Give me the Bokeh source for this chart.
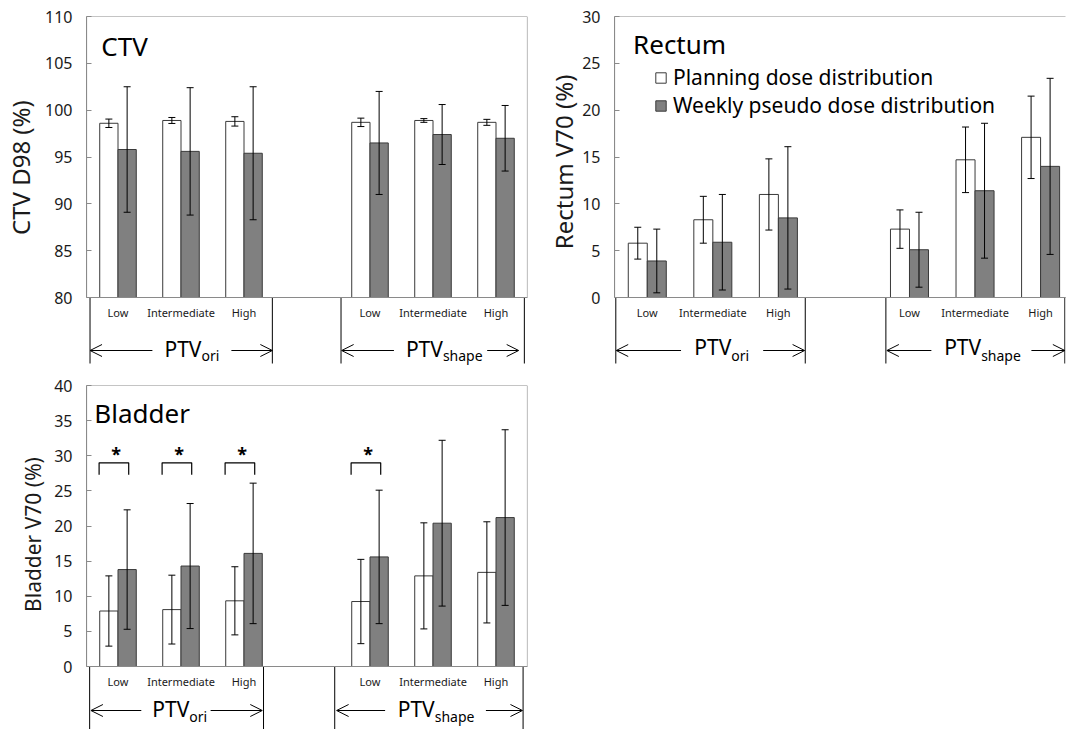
import numpy as np
from bokeh.plotting import figure
from bokeh.models import (ColumnDataSource, Whisker, TeeHead, Arrow, OpenHead,
                          Legend, LegendItem, FixedTicker, Range1d)
from bokeh.layouts import column, row
from bokeh.embed import file_html
from bokeh.resources import INLINE
from bokeh.core.properties import value

# ---------------- data ----------------
categories = ["Low", "Intermediate", "High", "Low", "Intermediate", "High"]
slot_positions = [1, 2, 3, 5, 6, 7]
group_names = ["ori", "shape"]
series_names = ["Planning dose distribution", "Weekly pseudo dose distribution"]

ctv_plan = [98.6, 98.9, 98.8, 98.7, 98.9, 98.7]
ctv_plan_sd = [0.45, 0.32, 0.5, 0.45, 0.2, 0.32]
ctv_weekly = [95.8, 95.6, 95.4, 96.5, 97.4, 97.0]
ctv_weekly_sd = [6.7, 6.8, 7.1, 5.5, 3.2, 3.5]

rectum_plan = [5.8, 8.3, 11.0, 7.3, 14.7, 17.1]
rectum_plan_sd = [1.7, 2.5, 3.8, 2.05, 3.5, 4.4]
rectum_weekly = [3.9, 5.9, 8.5, 5.1, 11.4, 14.0]
rectum_weekly_sd = [3.4, 5.1, 7.6, 4.0, 7.2, 9.4]

bladder_plan = [7.9, 8.1, 9.35, 9.25, 12.9, 13.4]
bladder_plan_sd = [5.0, 4.9, 4.85, 6.0, 7.55, 7.2]
bladder_weekly = [13.8, 14.3, 16.1, 15.6, 20.4, 21.2]
bladder_weekly_sd = [8.5, 8.9, 10.0, 9.5, 11.8, 12.5]
bladder_significant = [True, True, True, True, False, False]
bracket_top = 29.0
bracket_leg = 27.3
star_y = 30.3

FONT = "Noto Sans"
TXT = "#1a1a1a"
FRAME = "#8a8a8a"
GRAY = "#808080"
EDGE = "#3a3a3a"
BAR_W = 0.29
BOX_H = 281


def ylabel_fig(text, size, width, height, cx, cy):
    f = figure(width=width, height=height, output_backend="svg", toolbar_location=None,
               x_range=Range1d(0, width), y_range=Range1d(height, 0),
               x_axis_type=None, y_axis_type=None, min_border=0)
    f.grid.visible = False
    f.outline_line_color = None
    f.background_fill_color = "white"
    f.border_fill_color = "white"
    f.text(x=[cx], y=[cy], text=[text], angle=np.pi / 2, text_font=value(FONT),
           text_font_size=size, text_color=TXT, text_align="center", text_baseline="middle")
    return f


def make_panel(title, ymin, ymax, plan, plan_sd, weekly, weekly_sd, width, height,
               bl, br, bt, x_end, frame_right, deco):
    below = height - bt - BOX_H
    rng = ymax - ymin

    def ypx(dy):
        return ymin - dy * rng / BOX_H

    p = figure(width=width, height=height, output_backend="svg", toolbar_location=None,
               x_range=Range1d(0.5, x_end), y_range=Range1d(ypx(below), ymax),
               min_border_left=bl, min_border_right=br, min_border_top=bt,
               min_border_bottom=0)
    p.grid.visible = False
    p.outline_line_color = None
    p.background_fill_color = "white"
    p.border_fill_color = "white"

    # plot box
    p.quad(left=[0.5], right=[frame_right], bottom=[ymin], top=[ymax],
           fill_color=None, line_color=FRAME, line_width=1.2)

    xs = np.array(slot_positions, dtype=float)
    src_p = ColumnDataSource(dict(x=xs - BAR_W / 2, top=plan,
                                  up=np.array(plan) + np.array(plan_sd),
                                  lo=np.array(plan) - np.array(plan_sd)))
    src_w = ColumnDataSource(dict(x=xs + BAR_W / 2, top=weekly,
                                  up=np.array(weekly) + np.array(weekly_sd),
                                  lo=np.array(weekly) - np.array(weekly_sd)))
    r1 = p.vbar(x="x", top="top", bottom=ymin, width=BAR_W, source=src_p,
                fill_color="white", line_color=EDGE, line_width=1)
    r2 = p.vbar(x="x", top="top", bottom=ymin, width=BAR_W, source=src_w,
                fill_color=GRAY, line_color=EDGE, line_width=1)
    for src in (src_p, src_w):
        p.add_layout(Whisker(source=src, base="x", upper="up", lower="lo", level="overlay",
                             line_color="black", line_width=1,
                             upper_head=TeeHead(size=7, line_color="black", line_width=1),
                             lower_head=TeeHead(size=7, line_color="black", line_width=1)))

    # y axis (line limited to the box)
    ya = p.yaxis[0]
    ya.ticker = FixedTicker(ticks=list(range(int(ymin), int(ymax) + 1, 5)))
    ya.bounds = (ymin, ymax)
    ya.axis_line_color = FRAME
    ya.major_tick_in = 5
    ya.major_tick_out = 0
    ya.minor_tick_line_color = None
    ya.major_tick_line_color = FRAME
    ya.major_label_text_font = FONT
    ya.major_label_text_font_size = "16px"
    ya.major_label_text_color = TXT
    ya.major_label_standoff = 14

    # x axis at the base of the bars: category labels
    xa = p.xaxis[0]
    xa.fixed_location = ymin
    xa.bounds = (0.5, x_end)
    xa.ticker = FixedTicker(ticks=slot_positions)
    xa.major_label_overrides = {int(s): c for s, c in zip(slot_positions, categories)}
    xa.axis_line_color = FRAME
    xa.major_tick_line_color = None
    xa.minor_tick_line_color = None
    xa.major_tick_in = 0
    xa.major_tick_out = 0
    xa.major_label_standoff = 7
    xa.major_label_text_font = FONT
    xa.major_label_text_font_size = "11px"
    xa.major_label_text_color = TXT

    # panel title inside the box
    p.text(x=[deco["title_x"]], y=[ymax - deco["title_dy"] * rng / BOX_H], text=[title],
           text_font=value(FONT), text_font_size="26px", text_color="black",
           text_baseline="middle", text_align="left")

    # separators, arrows and PTV labels below the categories
    n = len(deco["seps"])
    p.segment(x0=deco["seps"], y0=[ymin] * n, x1=deco["seps"], y1=[ypx(deco["sep_dy"])] * n,
              line_color="black", line_width=1)
    for (a0, a1) in deco["arrows"]:
        p.add_layout(Arrow(x_start=a0, y_start=ypx(deco["arrow_dy"]), x_end=a1,
                           y_end=ypx(deco["arrow_dy"]),
                           end=OpenHead(size=12, line_color="black", line_width=1),
                           line_color="black", line_width=1))
    p.text(x=deco["ptv_x"], y=[ypx(deco["ptv_dy"])] * 2, text=["PTV", "PTV"],
           text_font=value(FONT), text_font_size="21px", text_color="black",
           text_baseline="middle", text_align="left")
    p.text(x=deco["ptv_x"], y=[ypx(deco["sub_dy"])] * 2, text=group_names, x_offset=37,
           text_font=value(FONT), text_font_size="14px", text_color="black",
           text_baseline="middle", text_align="left")
    return p, r1, r2


ctv_deco = dict(title_x=0.735, title_dy=29.5,
                seps=[0.556, 3.45, 4.54, 7.45], sep_dy=66,
                arrows=[(1.546, 0.556), (2.80, 3.45), (5.38, 4.55), (6.86, 7.36)], arrow_dy=53,
                ptv_x=[1.737, 5.57], ptv_dy=51, sub_dy=58)
rect_deco = dict(title_x=0.783, title_dy=27,
                 seps=[0.52, 3.41, 4.64, 7.37], sep_dy=66,
                 arrows=[(1.515, 0.526), (2.768, 3.40), (5.334, 4.655), (6.86, 7.37)],
                 arrow_dy=53, ptv_x=[1.718, 5.529], ptv_dy=49.5, sub_dy=58)
blad_deco = dict(title_x=0.624, title_dy=27.5,
                 seps=[0.55, 3.31, 4.44, 7.43], sep_dy=70,
                 arrows=[(1.37, 0.57), (2.47, 3.29), (5.24, 4.47), (6.84, 7.42)], arrow_dy=44,
                 ptv_x=[1.545, 5.44], ptv_dy=42, sub_dy=50)

p_ctv, _, _ = make_panel("CTV", 80, 110, ctv_plan, ctv_plan_sd, ctv_weekly, ctv_weekly_sd,
                         505, 370, 46, 18, 16, 7.5, 7.5, ctv_deco)
p_rec, rr1, rr2 = make_panel("Rectum", 0, 30, rectum_plan, rectum_plan_sd, rectum_weekly,
                             rectum_weekly_sd, 487, 370, 34, 1, 16, 7.38, 7.6, rect_deco)
p_bla, _, _ = make_panel("Bladder", 0, 40, bladder_plan, bladder_plan_sd, bladder_weekly,
                         bladder_weekly_sd, 495, 359, 36, 18, 15, 7.5, 7.5, blad_deco)

y_ctv = ylabel_fig("CTV D98 (%)", "24px", 40, 370, 20, 158)
y_rec = ylabel_fig("Rectum V70 (%)", "24px", 34, 370, 17.5, 152)
y_bla = ylabel_fig("Bladder V70 (%)", "21px", 50, 359, 32, 155.5)

# legend in rectum panel
leg = Legend(items=[LegendItem(label=series_names[0], renderers=[rr1]),
                    LegendItem(label=series_names[1], renderers=[rr2])],
             location=(40, 251), orientation="vertical",
             glyph_width=13, glyph_height=13, label_text_font=FONT,
             label_text_font_size="21px", label_text_color="black",
             label_standoff=6, spacing=-6, padding=0, margin=0,
             border_line_color=None, background_fill_alpha=0)
p_rec.add_layout(leg)

# significance brackets in bladder panel
sig_x = [s for s, f in zip(slot_positions, bladder_significant) if f]
bx = [[x - 0.30, x - 0.30, x + 0.17, x + 0.17] for x in sig_x]
by = [[bracket_leg, bracket_top, bracket_top, bracket_leg] for _ in sig_x]
p_bla.multi_line(xs=bx, ys=by, line_color="black", line_width=1.2)
p_bla.text(x=[x - 0.03 for x in sig_x], y=[star_y] * len(sig_x), text=["*"] * len(sig_x),
           text_font=value(FONT), text_font_size="18px", text_font_style="bold",
           text_align="center", text_baseline="middle", text_color="black")

layout = column(row(y_ctv, p_ctv, y_rec, p_rec), row(y_bla, p_bla))
open("out.html", "w").write(file_html(layout, INLINE))
